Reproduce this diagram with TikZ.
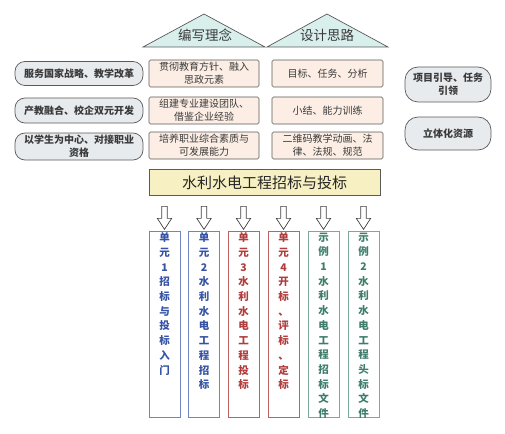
\documentclass[tikz,border=0pt]{standalone}
\usepackage{fontspec}
\newfontfamily\cjk{Noto Sans CJK SC}
\usetikzlibrary{calc}
\definecolor{triFill}{HTML}{D8EFEC}
\definecolor{grayFill}{HTML}{E8EBEE}
\definecolor{peach}{HTML}{FCEEE4}
\definecolor{yel}{HTML}{F7F0C3}
\definecolor{edgeG}{HTML}{5A5A5A}
\definecolor{txtG}{HTML}{3A3A3A}
\definecolor{bluE}{HTML}{6F85C4}
\definecolor{bluT}{HTML}{3552A6}
\definecolor{redE}{HTML}{C06262}
\definecolor{redT}{HTML}{B03C3C}
\definecolor{tealE}{HTML}{7AAA9E}
\definecolor{tealT}{HTML}{3E7D6C}
\tikzset{
  tri/.style={draw=edgeG, fill=triFill, line width=0.7pt},
  tritext/.style={font=\cjk\fontsize{13.5}{15}\selectfont, text=txtG},
  pill/.style={draw=edgeG, fill=grayFill, line width=0.7pt, rounded corners=10pt,
    font=\cjk\bfseries\fontsize{10}{13}\selectfont, text=txtG, align=center, inner sep=0pt},
  peachbox/.style={draw=edgeG, fill=peach, line width=0.6pt, rounded corners=1.5pt,
    font=\cjk\fontsize{10}{13}\selectfont, text=txtG, align=center, inner sep=0pt,
    minimum height=27pt},
  mainbox/.style={draw=edgeG, fill=yel, line width=0.7pt,
    font=\cjk\fontsize{15}{17}\selectfont, text=black!85, inner sep=0pt},
  vbox/.style={line width=0.8pt, minimum width=31pt, minimum height=186pt, inner sep=0pt},
  vtext/.style={font=\cjk\bfseries\fontsize{10.5}{14.7}\selectfont, align=center, inner sep=0pt},
  harrow/.pic={\draw[line width=0.7pt, draw=black!75, fill=white, line join=miter]
    (-2.8,0) -- (2.8,0) -- (2.8,12) -- (7.2,12) -- (0,23) -- (-7.2,12) -- (-2.8,12) -- cycle;}
}
\begin{document}
\begin{tikzpicture}[x=1pt,y=-1pt]
\useasboundingbox (0,0) rectangle (505,433);
% triangles
\draw[tri] (143,47) -- (204,14) -- (265,47) -- cycle;
\node[tritext] (t1) at (205,35) {编写理念};
\draw[tri] (267,47) -- (327,14) -- (388,47) -- cycle;
\node[tritext] (t2) at (327,35) {设计思路};
% left pills
\node[pill, minimum width=128pt, minimum height=24pt] (l1) at (79,73.5) {服务国家战略、教学改革};
\node[pill, minimum width=128pt, minimum height=25pt] (l2) at (79,110.5) {产教融合、校企双元开发};
\node[pill, minimum width=128pt, minimum height=27pt] (l3) at (79,146.5) {以学生为中心、对接职业\\资格};
% middle
\node[peachbox, minimum width=110pt] (m1) at (204,73.5) {贯彻教育方针、融入\\思政元素};
\node[peachbox, minimum width=110pt] (m2) at (204,110.5) {组建专业建设团队、\\借鉴企业经验};
\node[peachbox, minimum width=110pt] (m3) at (204,145.5) {培养职业综合素质与\\可发展能力};
% right
\node[peachbox, minimum width=111pt] (r1) at (327.5,73.5) {目标、任务、分析};
\node[peachbox, minimum width=111pt] (r2) at (327.5,110.5) {小结、能力训练};
\node[peachbox, minimum width=111pt] (r3) at (327.5,145.5) {二维码教学动画、法\\律、法规、规范};
% far right pills
\node[pill, minimum width=86pt, minimum height=35pt, rounded corners=13pt] (f1) at (448,84.5) {项目引导、任务\\引领};
\node[pill, minimum width=86pt, minimum height=33pt, rounded corners=13pt] (f2) at (448,133.5) {立体化资源};
% main
\node[mainbox, minimum width=231pt, minimum height=26pt] (main) at (264.5,182.5) {水利水电工程招标与投标};
% vertical boxes
\node[vbox, draw=bluE] (u1) at (164.5,324) {};
\node[vbox, draw=bluE] (u2) at (204,324) {};
\node[vbox, draw=redE] (u3) at (243.5,324) {};
\node[vbox, draw=redE] (u4) at (283.5,324) {};
\node[vbox, draw=tealE] (u5) at (323.5,324) {};
\node[vbox, draw=tealE] (u6) at (363.5,324) {};
\node[vtext, text=bluT, anchor=north] (v1) at ($(u1.north)+(0,2)$) {单\\元\\1\\招\\标\\与\\投\\标\\入\\门};
\node[vtext, text=bluT, anchor=north] (v2) at ($(u2.north)+(0,2)$) {单\\元\\2\\水\\利\\水\\电\\工\\程\\招\\标};
\node[vtext, text=redT, anchor=north] (v3) at ($(u3.north)+(0,2)$) {单\\元\\3\\水\\利\\水\\电\\工\\程\\投\\标};
\node[vtext, text=redT, anchor=north] (v4) at ($(u4.north)+(0,2)$) {单\\元\\4\\开\\标\\、\\评\\标\\、\\定\\标};
\node[vtext, text=tealT, anchor=north] (v5) at ($(u5.north)+(0,2)$) {示\\例\\1\\水\\利\\水\\电\\工\\程\\招\\标\\文\\件};
\node[vtext, text=tealT, anchor=north] (v6) at ($(u6.north)+(0,2)$) {示\\例\\2\\水\\利\\水\\电\\工\\程\\头\\标\\文\\件};
% arrows
\foreach \u in {u1,u2,u3,u4,u5,u6}{
  \pic at ($(\u.north |- main.south)+(0,10.5)$) {harrow};
}
\end{tikzpicture}
\end{document}
